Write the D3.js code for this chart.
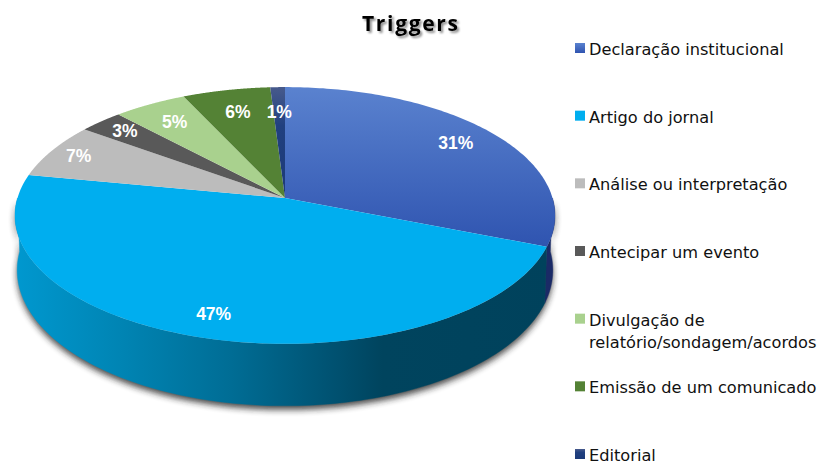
<!DOCTYPE html>
<html><head><meta charset="utf-8">
<script src="https://cdn.jsdelivr.net/npm/d3@7"></script>
<style>html,body{margin:0;background:#fff}svg{display:block}</style></head>
<body><svg id="c" width="823" height="463"></svg>
<script>
const title = "Triggers";
const categories = ["Declaração institucional","Artigo do jornal","Análise ou interpretação","Antecipar um evento","Divulgação de\nrelatório/sondagem/acordos","Emissão de um comunicado","Editorial"];
const values = [31,47,7,3,5,6,1];
const colors = ["#3d65bd","#00aeef","#bcbcbc","#595959","#a9d18e","#548235","#1f3f7f"];

const svg = d3.select("#c");
const defs = svg.append("defs");
// Perspective disc projection
const cx = 285, cy = 198, A = 267.5, B = 126, P = 0.136, D = 53.6;
const proj = (t, r = 1, drop = false) => {
  const u = Math.sin(t) * r, v = Math.cos(t) * r, k = 1 / (1 + P * v);
  const s = drop ? 0.992 : 1;
  return [cx + A * u * k * s, cy - B * v * k + (drop ? D * k : 0)];
};
const line = d3.line().curve(d3.curveLinear);
const pie = d3.pie().sort(null).value(d => d)(values);
const arcPts = (a0, a1, drop) => d3.range(0, 121).map(i => proj(a0 + (a1 - a0) * i / 120, 1, drop));

// gradients
const g1 = defs.append("linearGradient").attr("id","gBlue").attr("x1",0).attr("x2",0).attr("y1",0).attr("y2",1);
g1.append("stop").attr("offset",0).attr("stop-color","#5a82cf");
g1.append("stop").attr("offset",1).attr("stop-color","#2f54b0");
const g2 = defs.append("linearGradient").attr("id","gNavy").attr("x1",0).attr("x2",0).attr("y1",0).attr("y2",1);
g2.append("stop").attr("offset",0).attr("stop-color","#475a8c");
g2.append("stop").attr("offset",0.35).attr("stop-color","#21407f");
g2.append("stop").attr("offset",1).attr("stop-color","#1c3a78");
const g3 = defs.append("linearGradient").attr("id","gSide").attr("gradientUnits","userSpaceOnUse")
  .attr("x1",15).attr("x2",555).attr("y1",0).attr("y2",0);
[[0,"#0098cf"],[0.2,"#0084b3"],[0.4,"#006d95"],[0.6,"#00506f"],[0.68,"#00445e"],[1,"#00425c"]]
  .forEach(([o,c]) => g3.append("stop").attr("offset",o).attr("stop-color",c));
const f = defs.append("filter").attr("id","blur").attr("x","-10%").attr("y","-10%").attr("width","120%").attr("height","120%");
f.append("feGaussianBlur").attr("stdDeviation",3);

const R = Math.PI / 2, L = 3 * Math.PI / 2;
// shadow of the body
svg.append("path")
  .attr("d", line([...arcPts(R, L, false), ...arcPts(L, R, true)]) + "Z")
  .attr("fill","#222").attr("opacity",0.8).attr("filter","url(#blur)")
  .attr("transform","translate(0,4)");

// side walls
[[pie[0], "#1a2a66"], [pie[1], "url(#gSide)"]].forEach(([s, fill]) => {
  const a0 = Math.max(s.startAngle, R), a1 = Math.min(s.endAngle, L);
  svg.append("path")
    .attr("d", line([...arcPts(a0, a1, false), ...arcPts(a1, a0, true)]) + "Z")
    .attr("fill", fill).attr("stroke", fill).attr("stroke-width",0.4);
});

// top faces
const fills = colors.map((c, i) => i === 0 ? "url(#gBlue)" : i === 6 ? "url(#gNavy)" : c);
svg.append("g").selectAll("path").data(pie).join("path")
  .attr("d", d => line([[cx, cy], ...arcPts(d.startAngle, d.endAngle, false)]) + "Z")
  .attr("fill", (d, i) => fills[i]);

// value labels
const labelR = [0.82,0.85,0.88,0.86,0.8,0.78,0.75];
svg.append("g").selectAll("text").data(pie).join("text")
  .attr("x", (d, i) => proj((d.startAngle + d.endAngle) / 2, labelR[i])[0])
  .attr("y", (d, i) => proj((d.startAngle + d.endAngle) / 2, labelR[i])[1] + 6)
  .attr("text-anchor","middle")
  .attr("font-family","Liberation Sans").attr("font-weight","bold").attr("font-size",17.5)
  .attr("fill","#fff")
  .text(d => d.data + "%");

// title
svg.append("text").attr("x",410).attr("y",31).attr("text-anchor","middle")
  .attr("font-family","Open Sans").attr("font-weight","bold").attr("font-size",21)
  .attr("textLength",96).attr("lengthAdjust","spacing")
  .attr("fill","#000").style("filter","drop-shadow(2px 2px 1.2px rgba(0,0,0,0.45))").text(title);

// legend
const rowY = d3.scalePoint().domain(d3.range(categories.length)).range([49,455]);
const leg = svg.append("g").selectAll("g").data(categories).join("g")
  .attr("transform",(d,i)=>`translate(0,${rowY(i)})`);
leg.append("rect").attr("x",575).attr("y",-6).attr("width",10).attr("height",10)
  .attr("fill",(d,i)=>fills[i]);
leg.each(function(d){
  const g = d3.select(this);
  d.split("\n").forEach((s,j)=>{
    g.append("text").attr("x",589).attr("y",6 + j*22)
      .attr("font-family","DejaVu Sans").attr("font-size",16.2).attr("fill","#111")
      .text(s);
  });
});
</script></body></html>
